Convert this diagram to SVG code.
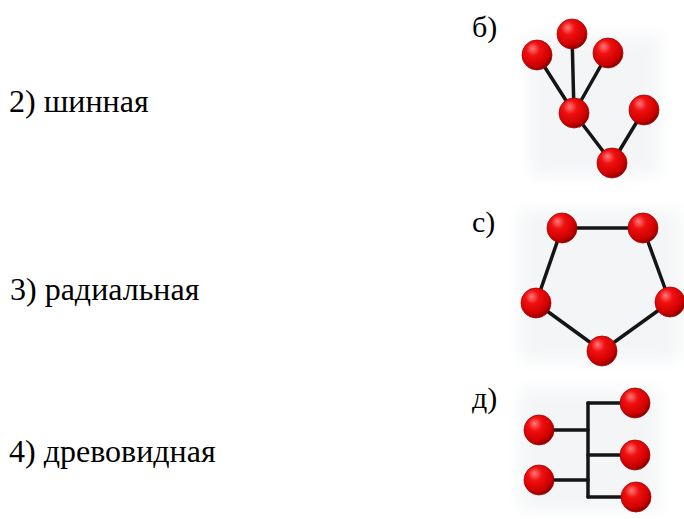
<svg xmlns="http://www.w3.org/2000/svg" width="684" height="519" viewBox="0 0 684 519">
<defs>
<radialGradient id="ball" cx="0.4" cy="0.35" r="0.65" fx="0.35" fy="0.28">
<stop offset="0" stop-color="#ff7a7a"/>
<stop offset="0.35" stop-color="#f01010"/>
<stop offset="0.8" stop-color="#d00000"/>
<stop offset="1" stop-color="#8a0000"/>
</radialGradient>
<filter id="soft" x="-30%" y="-30%" width="160%" height="160%">
<feGaussianBlur stdDeviation="8"/>
</filter>
</defs>
<style>
.t{font-family:"Liberation Serif","Times New Roman","DejaVu Serif",serif;font-size:32px;fill:#000}
.l{font-family:"Liberation Serif","Times New Roman","DejaVu Serif",serif;font-size:30px;fill:#000}
.e{stroke:#151515;stroke-width:3.5;fill:none;stroke-linecap:round}
.n{fill:url(#ball);stroke:#b00000;stroke-width:0.8}
.sh{fill:#e4e8ec;opacity:0.45}
</style>
<rect width="684" height="519" fill="#fff"/>
<g id="labels">
<text class="t" x="9" y="112">2) шинная</text>
<text class="t" x="10" y="300">3) радиальная</text>
<text class="t" x="9" y="462">4) древовидная</text>
<text class="l" x="472" y="37">б)</text>
<text class="l" x="472" y="232">с)</text>
<text class="l" x="472" y="408">д)</text>
</g>
<g id="shadows" filter="url(#soft)">
<rect class="sh" x="530" y="35" width="130" height="140"/>
<rect class="sh" x="520" y="210" width="160" height="150"/>
<rect class="sh" x="520" y="390" width="140" height="120"/>
</g>
<g id="connectors">
<line class="e" x1="537" y1="55" x2="574" y2="113"/>
<line class="e" x1="572" y1="34" x2="574" y2="113"/>
<line class="e" x1="608" y1="53" x2="574" y2="113"/>
<line class="e" x1="574" y1="113" x2="612" y2="163"/>
<line class="e" x1="612" y1="163" x2="644" y2="110"/>
<polygon class="e" points="562,228 643,228 670,302 602,351 536,303" stroke-linejoin="round"/>
<line class="e" x1="539" y1="430" x2="588" y2="430"/>
<line class="e" x1="539" y1="480" x2="588" y2="480"/>
<line class="e" x1="588" y1="403" x2="588" y2="497"/>
<line class="e" x1="588" y1="403" x2="635" y2="403"/>
<line class="e" x1="588" y1="455" x2="635" y2="455"/>
<line class="e" x1="588" y1="497" x2="636" y2="497"/>
</g>
<g id="bus-tree">
<circle class="n" cx="537" cy="55" r="15"/>
<circle class="n" cx="572" cy="34" r="15"/>
<circle class="n" cx="608" cy="53" r="15"/>
<circle class="n" cx="574" cy="113" r="15"/>
<circle class="n" cx="644" cy="110" r="15"/>
<circle class="n" cx="612" cy="163" r="15"/>
</g>
<g id="ring">
<circle class="n" cx="562" cy="228" r="15"/>
<circle class="n" cx="643" cy="228" r="15"/>
<circle class="n" cx="536" cy="303" r="15"/>
<circle class="n" cx="670" cy="302" r="15"/>
<circle class="n" cx="602" cy="351" r="15"/>
</g>
<g id="tree">
<circle class="n" cx="539" cy="430" r="15"/>
<circle class="n" cx="539" cy="480" r="15"/>
<circle class="n" cx="635" cy="403" r="15"/>
<circle class="n" cx="635" cy="455" r="15"/>
<circle class="n" cx="636" cy="497" r="15"/>
</g>
</svg>
